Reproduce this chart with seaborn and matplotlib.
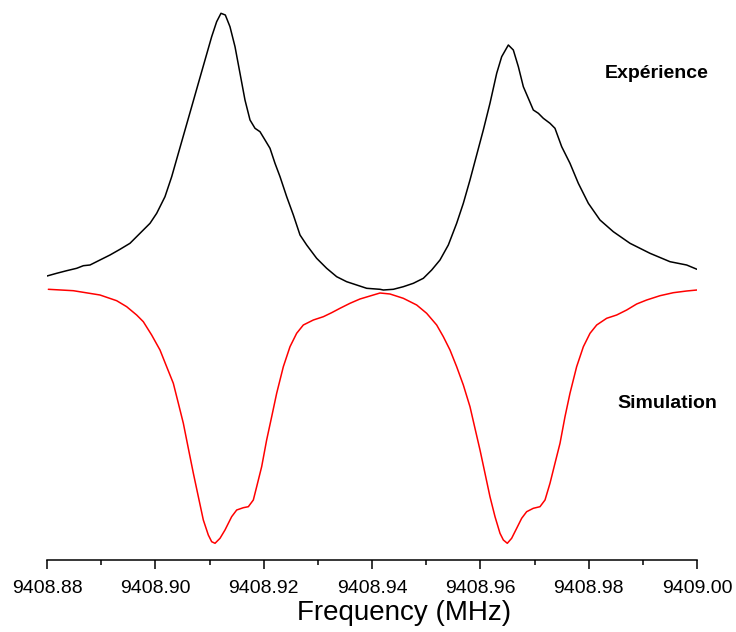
import numpy as np
import pandas as pd
import matplotlib
matplotlib.use("Agg")
import matplotlib.pyplot as plt
import seaborn as sns

# ---- data (y in arbitrary units) ----
exp_freq = [9408.88000, 9408.88178, 9408.88363, 9408.88548, 9408.88671, 9408.88794,
            9408.88978, 9408.89163, 9408.89348, 9408.89532, 9408.89717, 9408.89902,
            9408.90025, 9408.90178, 9408.90302, 9408.90425, 9408.90548, 9408.90671,
            9408.90794, 9408.90917, 9408.91040, 9408.91132, 9408.91212, 9408.91292,
            9408.91378, 9408.91471, 9408.91563, 9408.91655, 9408.91748, 9408.91840,
            9408.91932, 9408.92025, 9408.92117, 9408.92209, 9408.92302, 9408.92425,
            9408.92548, 9408.92671, 9408.92794, 9408.92978, 9408.93163, 9408.93348,
            9408.93532, 9408.93717, 9408.93902, 9408.94148, 9408.94209, 9408.94394,
            9408.94578, 9408.94763, 9408.94948, 9408.95102, 9408.95255, 9408.95409,
            9408.95563, 9408.95686, 9408.95809, 9408.95932, 9408.96055, 9408.96178,
            9408.96302, 9408.96394, 9408.96517, 9408.96609, 9408.96702, 9408.96794,
            9408.96886, 9408.96978, 9408.97071, 9408.97163, 9408.97286, 9408.97378,
            9408.97502, 9408.97655, 9408.97809, 9408.97994, 9408.98209, 9408.98455,
            9408.98763, 9408.99132, 9408.99502, 9408.99809, 9409.00000]
exp_signal = [2.840, 2.867, 2.893, 2.917, 2.943, 2.950,
              3.000, 3.050, 3.107, 3.167, 3.267, 3.367,
              3.467, 3.633, 3.833, 4.067, 4.300, 4.533,
              4.767, 5.000, 5.233, 5.383, 5.467, 5.450,
              5.333, 5.133, 4.867, 4.600, 4.400, 4.317,
              4.283, 4.200, 4.117, 3.967, 3.833, 3.633,
              3.450, 3.250, 3.150, 3.017, 2.917, 2.833,
              2.783, 2.750, 2.717, 2.707, 2.700, 2.707,
              2.733, 2.767, 2.817, 2.900, 3.000, 3.150,
              3.367, 3.567, 3.800, 4.050, 4.300, 4.567,
              4.867, 5.033, 5.150, 5.100, 4.933, 4.733,
              4.617, 4.500, 4.467, 4.417, 4.367, 4.317,
              4.133, 3.967, 3.767, 3.567, 3.400, 3.283,
              3.167, 3.067, 2.983, 2.950, 2.907]

sim_freq = [9408.88025, 9408.88486, 9408.88978, 9408.89286, 9408.89471, 9408.89655,
            9408.89778, 9408.89932, 9408.90086, 9408.90209, 9408.90332, 9408.90425,
            9408.90517, 9408.90609, 9408.90702, 9408.90794, 9408.90886, 9408.90978,
            9408.91040, 9408.91102, 9408.91194, 9408.91286, 9408.91409, 9408.91502,
            9408.91625, 9408.91717, 9408.91809, 9408.91871, 9408.91963, 9408.92055,
            9408.92148, 9408.92240, 9408.92363, 9408.92486, 9408.92609, 9408.92732,
            9408.92917, 9408.93102, 9408.93255, 9408.93409, 9408.93594, 9408.93778,
            9408.93963, 9408.94148, 9408.94332, 9408.94578, 9408.94825, 9408.95009,
            9408.95194, 9408.95317, 9408.95440, 9408.95563, 9408.95686, 9408.95809,
            9408.95901, 9408.95994, 9408.96086, 9408.96178, 9408.96271, 9408.96363,
            9408.96425, 9408.96498, 9408.96578, 9408.96671, 9408.96763, 9408.96855,
            9408.96978, 9408.97101, 9408.97194, 9408.97286, 9408.97378, 9408.97471,
            9408.97563, 9408.97655, 9408.97778, 9408.97902, 9408.98025, 9408.98148,
            9408.98332, 9408.98517, 9408.98702, 9408.98886, 9408.99071, 9408.99317,
            9408.99563, 9408.99809, 9409.00000]
sim_signal = [2.707, 2.693, 2.650, 2.593, 2.533, 2.450,
              2.383, 2.250, 2.100, 1.933, 1.767, 1.567,
              1.367, 1.117, 0.867, 0.633, 0.400, 0.250,
              0.183, 0.167, 0.217, 0.300, 0.433, 0.500,
              0.523, 0.533, 0.600, 0.733, 0.933, 1.200,
              1.433, 1.667, 1.933, 2.133, 2.267, 2.350,
              2.400, 2.433, 2.473, 2.517, 2.567, 2.610,
              2.640, 2.670, 2.660, 2.617, 2.550, 2.467,
              2.350, 2.233, 2.100, 1.933, 1.750, 1.533,
              1.317, 1.100, 0.867, 0.633, 0.433, 0.267,
              0.200, 0.167, 0.217, 0.317, 0.417, 0.483,
              0.517, 0.533, 0.600, 0.767, 0.967, 1.167,
              1.433, 1.667, 1.933, 2.133, 2.267, 2.350,
              2.417, 2.450, 2.500, 2.560, 2.600, 2.643,
              2.673, 2.690, 2.700]

tick_values = [9408.88, 9408.90, 9408.92, 9408.94, 9408.96, 9408.98, 9409.00]
tick_labels = ["9408.88", "9408.90", "9408.92", "9408.94", "9408.96", "9408.98", "9409.00"]
minor_tick_values = [9408.89, 9408.91, 9408.93, 9408.95, 9408.97, 9408.99]

# ---- style ----
sns.set_style("ticks")
plt.rcParams["font.family"] = ["Liberation Sans", "DejaVu Sans"]

fig = plt.figure(figsize=(7.36, 6.32), dpi=100)
ax = fig.add_axes([47 / 736, 72 / 632, 650 / 736, 555 / 632])

exp_df = pd.DataFrame({"freq": exp_freq, "signal": exp_signal})
sim_df = pd.DataFrame({"freq": sim_freq, "signal": sim_signal})

sns.lineplot(data=exp_df, x="freq", y="signal", ax=ax, color="black",
             linewidth=1.1, sort=False)
sns.lineplot(data=sim_df, x="freq", y="signal", ax=ax, color="#ff0000",
             linewidth=1.1, sort=False)

ax.set_xlim(9408.88, 9409.00)
ax.set_ylim(0, 5.55)
ax.set_xticks(tick_values)
ax.set_xticklabels(tick_labels, fontsize=14)
ax.set_xticks(minor_tick_values, minor=True)
ax.set_yticks([])
ax.set_ylabel("")
ax.tick_params(axis="x", which="major", direction="out", length=6.5, width=1.1,
               pad=8, color="black", labelcolor="black")
ax.tick_params(axis="x", which="minor", direction="out", length=3.5, width=1.1,
               color="black")
for side in ["top", "right", "left"]:
    ax.spines[side].set_visible(False)
ax.spines["bottom"].set_linewidth(1.1)
ax.spines["bottom"].set_color("black")

ax.set_xlabel("Frequency (MHz)", fontsize=20, color="black")
ax.xaxis.set_label_coords(0.549, -0.072)

fig.text(605 / 736, (632 - 78) / 632, "Expérience", fontsize=14,
         fontweight="bold", ha="left", va="baseline", color="black")
fig.text(617 / 736, (632 - 408) / 632, "Simulation", fontsize=14,
         fontweight="bold", ha="left", va="baseline", color="black")

fig.savefig("out.png", dpi=100, facecolor="white")
